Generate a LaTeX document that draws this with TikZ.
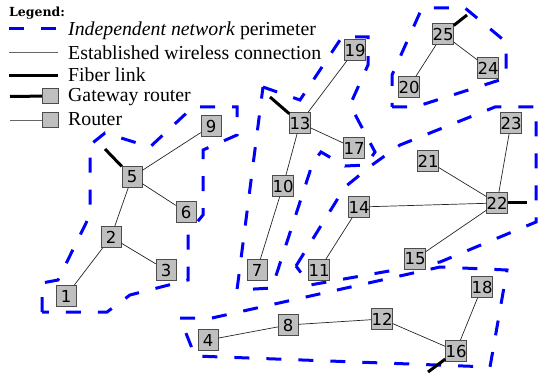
\documentclass[tikz,border=0pt]{standalone}
\usepackage{fontspec}
\setmainfont{Liberation Serif}
\newfontfamily\numfont{DejaVu Sans}
\newfontfamily\headfont{DejaVu Serif}

\begin{document}
\begin{tikzpicture}
    [x = 1pt, y = -1pt,
     router/.style = {rectangle, draw = black!70, fill = black!25, minimum width = 20pt,
                      minimum height = 21pt, inner sep = 0pt, font = \numfont\fontsize{16.5}{16.5}\selectfont},
     legbox/.style = {router, minimum width = 16pt, minimum height = 15pt},
     wifi/.style = {draw = black!85, line width = .7pt},
     fiber/.style = {draw = black, line width = 3pt},
     perim/.style = {draw = blue, line width = 3pt, dash pattern = on 15pt off 17pt},
     legtext/.style = {anchor = base west, inner sep = 0pt, font = \fontsize{19.8}{20}\selectfont}]
    \useasboundingbox (0,0) rectangle (538,374);

    % perimeters
    \draw[perim] (42,312) -- (42,283) -- (58,280) -- (90,215) -- (90,145) -- (105,133) -- (150,147)
      -- (193,107) -- (237,107) -- (237,135) -- (203,150) -- (203,215) -- (188,233) -- (188,280)
      -- (130,295) -- (107,312) -- cycle;
    \draw[perim] (263,87) -- (300,100) -- (342,37) -- (368,37) -- (368,65) -- (350,105) -- (375,152)
      -- (366,165) -- (345,166) -- (321,152) -- (313,162) -- (272,288) -- (237,290) -- cycle;
    \draw[perim] (296,266) -- (345,187) -- (372,165) -- (400,145) -- (495,107) -- (536,107)
      -- (536,222) -- (440,262) -- (310,285) -- cycle;
    \draw[perim] (392,107) -- (415,107) -- (506,78) -- (506,42) -- (465,8) -- (422,8) -- (392,75) -- cycle;
    \draw[perim] (180,318) -- (212,318) -- (440,267) -- (507,270) -- (490,367) -- (195,356) -- cycle;

    % routers
    \node[router] (n1) at (66,296) {1};
    \node[router] (n2) at (111,237) {2};
    \node[router] (n3) at (166,270) {3};
    \node[router] (n4) at (208,340) {4};
    \node[router] (n5) at (132,177) {5};
    \node[router] (n6) at (186,212) {6};
    \node[router] (n7) at (257,270) {7};
    \node[router] (n8) at (288,325) {8};
    \node[router] (n9) at (211,126) {9};
    \node[router] (n10) at (283,186) {10};
    \node[router] (n11) at (319,270) {11};
    \node[router] (n12) at (382,319) {12};
    \node[router] (n13) at (300,123) {13};
    \node[router] (n14) at (359,207) {14};
    \node[router] (n15) at (415,259) {15};
    \node[router] (n16) at (456,351) {16};
    \node[router] (n17) at (354,148) {17};
    \node[router] (n18) at (482,287) {18};
    \node[router] (n19) at (355,50) {19};
    \node[router] (n20) at (409,87) {20};
    \node[router] (n21) at (428,161) {21};
    \node[router] (n22) at (497,203) {22};
    \node[router] (n23) at (511,123) {23};
    \node[router] (n24) at (488,68) {24};
    \node[router] (n25) at (443,34) {25};

    \foreach \from/ \to in {n1/n2,n2/n3,n2/n5,n5/n9,n5/n6,n13/n19,n13/n17,n13/n10,n10/n7,n14/n11,
                            n14/n22,n21/n22,n23/n22,n15/n22,n4/n8,n8/n12,n12/n16,n16/n18,n25/n20,n25/n24}
      \draw[wifi] (\from) -- (\to);

    % fiber uplinks
    \coordinate (f5) at (105,149);
    \coordinate (f13) at (270,97);
    \coordinate (f25) at (467,15);
    \coordinate (f22) at (527,203);
    \coordinate (f16) at (428,372);
    \foreach \gw in {5,13,25,22,16}
      \draw[fiber] (f\gw) -- (n\gw);

    % legend
    \node[anchor = base west, inner sep = 0pt, font = \headfont\bfseries\fontsize{12.5}{12.5}\selectfont]
      (leghead) at (9,16.5) {Legend:};
    \coordinate (l1a) at (9,28.5);  \coordinate (l1b) at (58,28.5);
    \coordinate (l2a) at (9,52.5);  \coordinate (l2b) at (58,52.5);
    \coordinate (l3a) at (9,76);    \coordinate (l3b) at (58,76);
    \coordinate (l4a) at (10,96.5);
    \coordinate (l5a) at (10,120);
    \node[legbox] (lgw) at (50,96) {};
    \node[legbox] (lrt) at (50,120) {};
    \draw[perim] (l1a) -- (l1b);
    \draw[wifi, draw = black!60] (l2a) -- (l2b);
    \draw[fiber] (l3a) -- (l3b);
    \draw[fiber] (l4a) -- (lgw);
    \draw[wifi, draw = black!60] (l5a) -- (lrt);
    \node[legtext] (t1) at (68,36) {\textit{Independent network} perimeter};
    \node[legtext] (t2) at (68,60) {Established wireless connection};
    \node[legtext] (t3) at (68,82) {Fiber link};
    \node[legtext] (t4) at (68,102) {Gateway router};
    \node[legtext] (t5) at (68,126) {Router};
  \end{tikzpicture}
\end{document}
